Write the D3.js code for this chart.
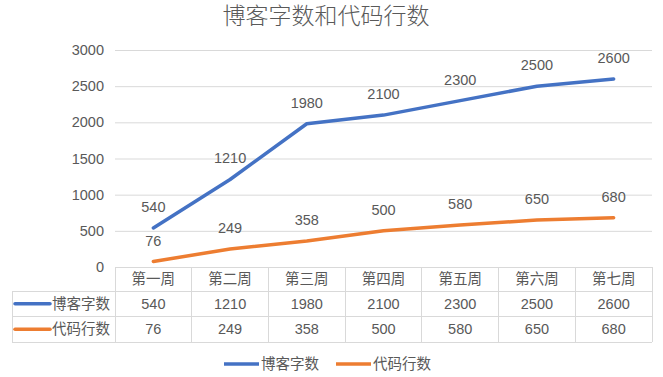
<!DOCTYPE html>
<html>
<head>
<meta charset="utf-8">
<title>博客字数和代码行数</title>
<script src="https://d3js.org/d3.v7.min.js"></script>
<style>
  body { margin: 0; background: #fff; }
  text { font-family: "Liberation Sans", Arial, "Noto Sans CJK SC", sans-serif; fill: #595959; }
</style>
</head>
<body>
<svg class="chart"></svg>
<script>
var weeks = ["第一周", "第二周", "第三周", "第四周", "第五周", "第六周", "第七周"];
var seriesNames = ["博客字数", "代码行数"];
var blogWords = [540, 1210, 1980, 2100, 2300, 2500, 2600];
var codeLines = [76, 249, 358, 500, 580, 650, 680];
var yTicks = [0, 500, 1000, 1500, 2000, 2500, 3000];
var colors = ["#4472C4", "#ED7D31"];

var svgWidth = 663, svgHeight = 377;
var plot = {left: 115, right: 652, top: 50, bottom: 267};
var tableLeft = 12, rowH = [24, 25.5, 25.5];
var fs = 14.5, gridColor = "#d9d9d9";

var svg = d3.select(".chart").attr("width", svgWidth).attr("height", svgHeight);

var x = d3.scaleBand().domain(weeks).range([plot.left, plot.right]);
var y = d3.scaleLinear().domain([0, 3000]).range([plot.bottom, plot.top]);
var cx = function(d) { return x(d) + x.bandwidth() / 2; };

// title
svg.append("text")
    .attr("x", 326).attr("y", 15.5)
    .attr("dy", "0.36em")
    .attr("text-anchor", "middle")
    .style("font-size", "23px")
    .style("font-family", "'Noto Sans CJK SC', sans-serif")
    .style("font-weight", 300)
    .text("博客字数和代码行数");

// y axis with gridlines
var yAxis = d3.axisLeft(y).tickValues(yTicks).tickFormat(d3.format("d"))
    .tickSize(-(plot.right - plot.left)).tickPadding(11);
var gy = svg.append("g").attr("transform", "translate(" + plot.left + ",0)").call(yAxis);
gy.select(".domain").remove();
gy.selectAll(".tick line").attr("stroke", gridColor);
gy.selectAll(".tick text").style("font-size", fs + "px").style("fill", "#595959");

// data table
var rowY = [plot.bottom, plot.bottom + rowH[0], plot.bottom + rowH[0] + rowH[1], plot.bottom + rowH[0] + rowH[1] + rowH[2]];
var tbl = svg.append("g");
tbl.append("line").attr("x1", plot.left).attr("x2", plot.right).attr("y1", rowY[0]).attr("y2", rowY[0]);
rowY.slice(1).forEach(function(ry) {
    tbl.append("line").attr("x1", tableLeft).attr("x2", plot.right).attr("y1", ry).attr("y2", ry);
});
tbl.append("line").attr("x1", tableLeft).attr("x2", tableLeft).attr("y1", rowY[1]).attr("y2", rowY[3]);
weeks.concat([null]).forEach(function(w) {
    var xx = w === null ? plot.right : x(w);
    tbl.append("line").attr("x1", xx).attr("x2", xx).attr("y1", rowY[0]).attr("y2", rowY[3]);
});
tbl.selectAll("line").attr("stroke", gridColor).attr("stroke-width", 1).attr("shape-rendering", "crispEdges");

tbl.selectAll(".hdr").data(weeks).enter().append("text")
    .attr("x", cx).attr("y", (rowY[0] + rowY[1]) / 2)
    .attr("dy", "0.36em").attr("text-anchor", "middle")
    .style("font-size", fs + "px").text(function(d) { return d; });

[blogWords, codeLines].forEach(function(vals, si) {
    var my = (rowY[si + 1] + rowY[si + 2]) / 2;
    tbl.append("line").attr("x1", 15).attr("x2", 50).attr("y1", my).attr("y2", my)
        .attr("stroke", colors[si]).attr("stroke-width", 3.5).attr("stroke-linecap", "round");
    tbl.append("text").attr("x", 52).attr("y", my).attr("dy", "0.36em")
        .style("font-size", fs + "px").text(seriesNames[si]);
    tbl.selectAll(".v" + si).data(vals).enter().append("text")
        .attr("x", function(d, i) { return cx(weeks[i]); }).attr("y", my)
        .attr("dy", "0.36em").attr("text-anchor", "middle")
        .style("font-size", fs + "px").text(function(d) { return d; });
});

// lines + labels
var line = d3.line().x(function(d, i) { return cx(weeks[i]); }).y(function(d) { return y(d); });
[blogWords, codeLines].forEach(function(vals, si) {
    svg.append("path").datum(vals).attr("d", line)
        .attr("fill", "none").attr("stroke", colors[si]).attr("stroke-width", 3.5)
        .attr("stroke-linecap", "round").attr("stroke-linejoin", "round");
    svg.selectAll(".lab" + si).data(vals).enter().append("text")
        .attr("x", function(d, i) { return cx(weeks[i]); })
        .attr("y", function(d) { return y(d) - 16; })
        .attr("text-anchor", "middle")
        .style("font-size", fs + "px").text(function(d) { return d; });
});

// legend
var legend = svg.append("g");
var legendX = [224, 336];
seriesNames.forEach(function(n, si) {
    legend.append("line").attr("x1", legendX[si]).attr("x2", legendX[si] + 35)
        .attr("y1", 364).attr("y2", 364)
        .attr("stroke", colors[si]).attr("stroke-width", 3.5);
    legend.append("text").attr("x", legendX[si] + 37).attr("y", 364).attr("dy", "0.36em")
        .style("font-size", fs + "px").text(n);
});
</script>
</body>
</html>
